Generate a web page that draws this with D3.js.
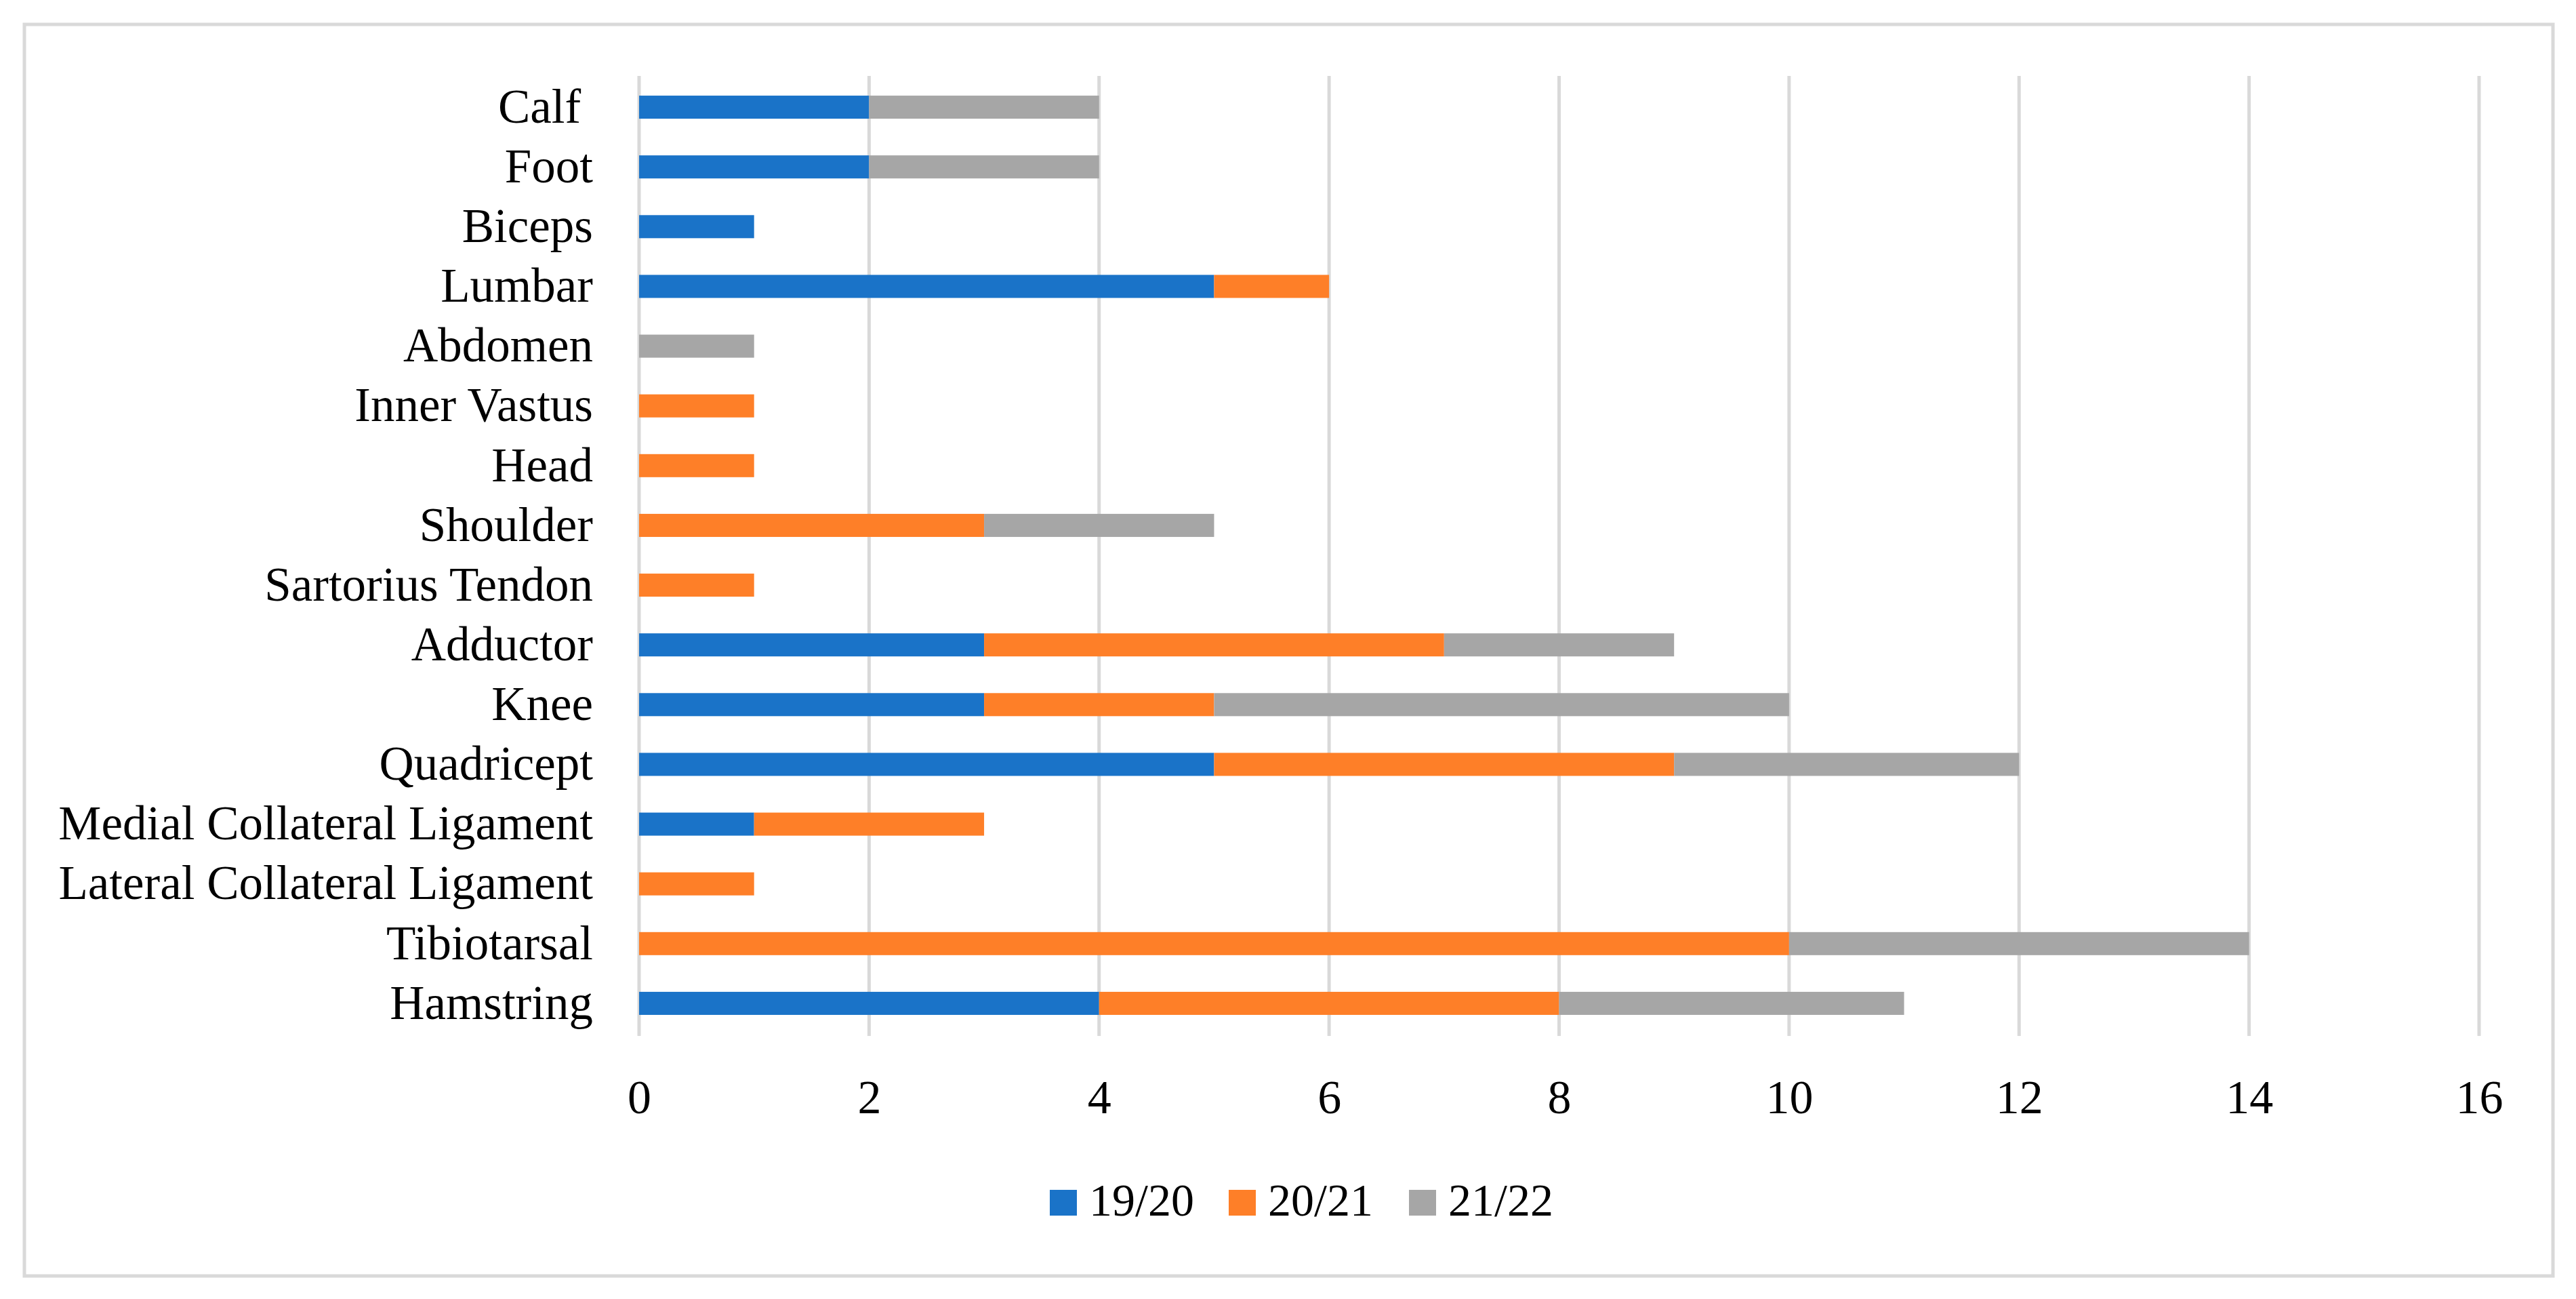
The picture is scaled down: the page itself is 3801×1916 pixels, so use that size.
<!DOCTYPE html>
<html>
<head>
<meta charset="utf-8">
<script src="https://cdn.jsdelivr.net/npm/d3@7"></script>
<style>
  html, body { margin: 0; padding: 0; background: #ffffff; }
  svg { display: block; }
</style>
</head>
<body>
<svg id="chart" width="3801" height="1916"></svg>
<script>
// ---- Data (top level) ----
const categories = ["Calf ", "Foot", "Biceps", "Lumbar", "Abdomen", "Inner Vastus", "Head", "Shoulder",
  "Sartorius Tendon", "Adductor", "Knee", "Quadricept", "Medial Collateral Ligament",
  "Lateral Collateral Ligament", "Tibiotarsal", "Hamstring"];
const seriesNames = ["19/20", "20/21", "21/22"];
const season1920 = [2, 2, 1, 5, 0, 0, 0, 0, 0, 3, 3, 5, 1, 0, 0, 4];
const season2021 = [0, 0, 0, 1, 0, 1, 1, 3, 1, 4, 2, 4, 2, 1, 10, 4];
const season2122 = [2, 2, 0, 0, 1, 0, 0, 2, 0, 2, 5, 3, 0, 0, 4, 3];
const xTicks = [0, 2, 4, 6, 8, 10, 12, 14, 16];
const colors = ["#1a73c8", "#fe7f28", "#a6a6a6"];

// ---- Build table ----
const table = categories.map((c, i) => ({
  cat: c, "19/20": season1920[i], "20/21": season2021[i], "21/22": season2122[i]
}));
const stacked = d3.stack().keys(seriesNames)(table);

const svg = d3.select("#chart");
const FONT = "'Liberation Serif', 'Times New Roman', serif";

// outer border
svg.append("rect").attr("x", 36).attr("y", 36).attr("width", 3731).attr("height", 1846)
  .attr("fill", "#ffffff").attr("stroke", "#d9d9d9").attr("stroke-width", 5);

const x = d3.scaleLinear().domain([0, 16]).range([943, 3658]);
const y = d3.scaleBand().domain(categories).range([114, 1524]).paddingInner(0.614).paddingOuter(0.307);

// gridlines
svg.append("g").selectAll("line").data(xTicks).join("line")
  .attr("x1", d => x(d)).attr("x2", d => x(d))
  .attr("y1", 112).attr("y2", 1528)
  .attr("stroke", "#d9d9d9").attr("stroke-width", 5);

// bars
svg.append("g").selectAll("g").data(stacked).join("g")
  .attr("fill", (d, i) => colors[i])
  .selectAll("rect").data(d => d.filter(s => s[1] - s[0] > 0)).join("rect")
  .attr("x", d => x(d[0]))
  .attr("width", d => x(d[1]) - x(d[0]))
  .attr("y", d => y(d.data.cat))
  .attr("height", y.bandwidth());

// y axis labels
const yAxis = d3.axisLeft(y).tickSize(0).tickPadding(0);
const gy = svg.append("g").attr("transform", "translate(875,0)").call(yAxis);
gy.select(".domain").remove();
gy.selectAll("text")
  .attr("font-family", FONT).attr("font-size", 71).attr("fill", "#000")
  .attr("dy", "0.32em").style("white-space", "pre");

// x axis labels
const xAxis = d3.axisBottom(x).tickValues(xTicks).tickSize(0).tickPadding(0).tickFormat(d3.format("d"));
const gx = svg.append("g").attr("transform", "translate(0,1592)").call(xAxis);
gx.select(".domain").remove();
gx.selectAll("text")
  .attr("font-family", FONT).attr("font-size", 70).attr("fill", "#000").attr("dy", "0.71em");

// legend
const legendX = [1549, 1813, 2079];
const lg = svg.append("g").selectAll("g").data(seriesNames).join("g")
  .attr("transform", (d, i) => `translate(${legendX[i]},1755)`);
lg.append("rect").attr("width", 40).attr("height", 38).attr("fill", (d, i) => colors[i]);
lg.append("text").attr("x", 58).attr("y", 38)
  .attr("font-family", FONT).attr("font-size", 68).attr("fill", "#000")
  .text(d => d);
</script>
</body>
</html>
